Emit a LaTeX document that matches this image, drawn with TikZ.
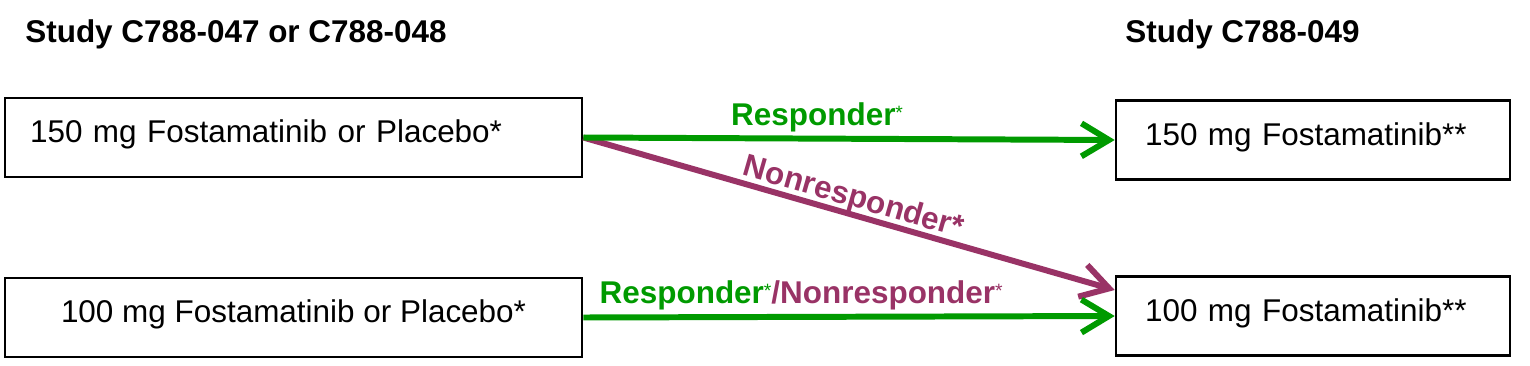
\documentclass[tikz,border=0pt]{standalone}
\usepackage{fontspec}
\setmainfont{Liberation Sans}
\usetikzlibrary{arrows.meta, positioning, calc}
\definecolor{respGreen}{HTML}{009A00}
\definecolor{nonrespPlum}{HTML}{993366}
\newcommand{\armfont}{\fontsize{17.9}{21}\selectfont}
\newcommand{\supast}{\raisebox{0.2em}{\fontsize{11}{11}\selectfont\mdseries *}}
\tikzset{
  armbox/.style={draw, line width=1.5pt, minimum width=11.54cm, minimum height=1.58cm,
    font=\armfont, text height=13pt, text depth=7pt, inner sep=0pt},
  extbox/.style={armbox, minimum width=7.88cm},
  studyttl/.style={font=\armfont\bfseries, inner sep=0pt, anchor=base west},
  flowarr/.style={-{Straight Barb[length=5.5mm, width=6.6mm]}, line width=3.4pt},
  resparr/.style={flowarr, respGreen},
  nonresparr/.style={flowarr, nonrespPlum},
  arrlbl/.style={font=\armfont\bfseries, inner sep=2pt},
}
\begin{document}
\begin{tikzpicture}[x=0.02cm, y=-0.02cm]
    \useasboundingbox (0,0) rectangle (1530,365);
    % study headings
    \node[studyttl] (s1) at (25,42) {Study C788-047 or C788-048};
    \node[studyttl] (s2) at (1125,42) {Study C788-049};
    % parent study arms
    \node[armbox, text width=10.54cm, align=left, inner xsep=0.5cm] (a150) at (293.5,137.5)
      {150 mg Fostamatinib or Placebo*};
    \node[armbox] (a100) at (293.5,317.5)
      {100 mg Fostamatinib or Placebo*};
    % extension study arms
    \node[extbox, text width=6.72cm, align=left, inner xsep=0.58cm] (e150) at (1313,140)
      {150 mg Fostamatinib**};
    \node[extbox, text width=6.72cm, align=left, inner xsep=0.58cm] (e100) at (1313,316)
      {100 mg Fostamatinib**};
    % transitions
    \draw[nonresparr] (a150.east) -- node[arrlbl, above=-1pt, sloped, pos=0.5, inner sep=0pt] {Nonresponder*}
      ([yshift=0.52cm]e100.west);
    \draw[resparr] (a150.east) -- node[arrlbl, above, pos=0.44] {Responder\supast} (e150.west);
    \draw[resparr] (a100.east) -- node[arrlbl, above, pos=0.41]
      {\textcolor{respGreen}{Responder\supast}\textcolor{nonrespPlum}{/Nonresponder\supast}} (e100.west);
  \end{tikzpicture}
\end{document}
